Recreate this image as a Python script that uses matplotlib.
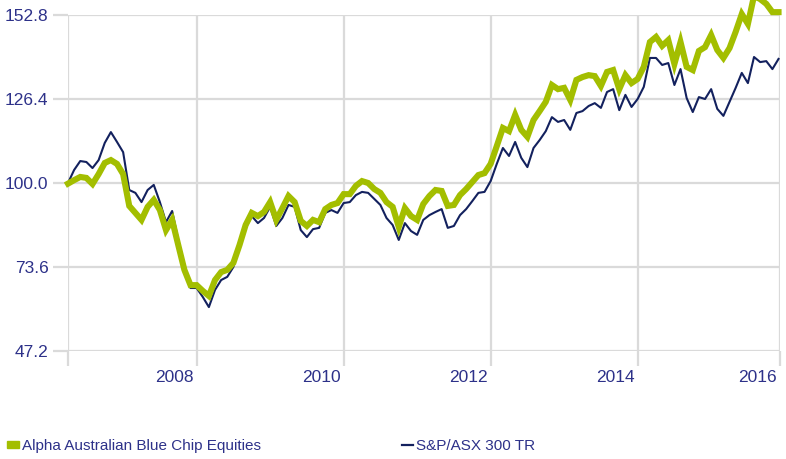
import matplotlib
matplotlib.use("Agg")
import matplotlib.pyplot as plt
import matplotlib.transforms as mtrans
from matplotlib.lines import Line2D
from matplotlib.patches import Patch
import numpy as np

plt.rcParams['font.family'] = ['Liberation Sans', 'DejaVu Sans']

# monthly values, Apr 2006 .. Dec 2015 (rebased to 100)
start_year = 2006.25
fund = [99.8, 100.9, 101.9, 101.6, 99.7, 102.8, 106.3, 107.2, 106.0, 102.8,
        92.8, 90.6, 88.4, 92.5, 94.7, 91.5, 85.2, 88.4, 80.5, 72.7,
        67.9, 67.9, 66.1, 64.5, 69.5, 72.0, 72.7, 74.9, 80.5, 86.8,
        90.6, 89.6, 90.9, 94.0, 88.4, 92.1, 95.9, 94.0, 88.1, 86.5,
        88.4, 87.7, 91.8, 93.1, 93.7, 96.5, 96.5, 99.1, 100.6, 100.0,
        98.1, 96.9, 94.0, 92.5, 86.2, 92.1, 89.6, 88.4, 93.4, 95.9,
        97.8, 97.5, 92.8, 93.1, 96.2, 98.1, 100.3, 102.5, 103.1, 106.0,
        111.6, 117.3, 116.3, 121.4, 116.7, 114.5, 119.8, 122.6, 125.5, 130.8,
        129.5, 129.9, 126.1, 132.4, 133.3, 133.9, 133.6, 130.5, 134.9, 135.5,
        129.5, 133.9, 131.4, 132.7, 136.5, 144.3, 145.9, 143.1, 144.9, 137.4,
        144.3, 136.5, 135.5, 141.5, 142.7, 146.5, 141.8, 139.3, 142.4, 147.5,
        153.1, 150.0, 158.8, 157.8, 156.3, 153.7, 153.7]
index = [100.0, 104.1, 106.9, 106.6, 104.7, 107.2, 112.6, 116.0, 112.9, 109.7,
         97.8, 96.9, 94.0, 97.8, 99.4, 94.0, 87.7, 91.2, 82.1, 74.2,
         67.0, 67.0, 64.2, 61.0, 66.4, 69.5, 70.5, 73.6, 80.2, 85.9,
         89.6, 87.4, 89.0, 92.5, 86.5, 89.0, 93.1, 92.5, 85.2, 83.0,
         85.5, 85.9, 90.6, 91.5, 90.6, 93.7, 94.0, 96.2, 97.2, 96.9,
         95.0, 93.1, 89.0, 86.8, 82.1, 87.4, 84.9, 83.7, 88.4, 89.9,
         90.9, 91.8, 85.9, 86.5, 89.9, 91.8, 94.3, 96.9, 97.2, 100.6,
         106.0, 111.0, 108.5, 112.9, 107.9, 105.0, 111.0, 113.5, 116.3, 120.7,
         119.2, 119.8, 116.7, 122.0, 122.6, 124.2, 125.1, 123.6, 128.6, 129.5,
         122.9, 127.7, 123.9, 126.4, 130.2, 139.3, 139.3, 137.1, 137.7, 130.8,
         135.8, 126.7, 122.3, 127.0, 126.4, 129.5, 123.3, 121.1, 125.5, 129.9,
         134.6, 131.4, 139.6, 138.0, 138.3, 135.8, 139.0]
y_ticks = [47.2, 73.6, 100.0, 126.4, 152.8]
x_ticks = [2008, 2010, 2012, 2014, 2016]
names = ['Alpha Australian Blue Chip Equities', 'S&P/ASX 300 TR']

green = '#a3be00'
navy = '#13215e'
txt = '#2d3189'
grid = '#dadada'

months = start_year + np.arange(len(fund)) / 12.0
x_end = start_year + 116.24 / 12.0

fig = plt.figure(figsize=(7.86, 4.59), dpi=100)
ax = fig.add_axes([68/786, 1 - 351/459, 712/786, 336/459])

ax.plot(months, index, color=navy, lw=1.5, clip_on=False, zorder=3)
ax.plot(months, fund, color=green, lw=4.4, clip_on=False, zorder=4,
        solid_joinstyle='miter')

ax.set_xlim(start_year, x_end)
ax.set_ylim(47.2, 152.8)

tick_pos = [start_year] + x_ticks[:-1] + [x_end]
ax.set_xticks(tick_pos, [''] + [str(t) for t in x_ticks])
ax.set_yticks(y_ticks, ['%.1f' % v for v in y_ticks])
ax.grid(True, color=grid, lw=1.6)
ax.set_axisbelow(True)
for s in ax.spines.values():
    s.set_visible(False)
ax.tick_params(axis='both', color=grid, width=1.6, length=10.5,
               labelcolor=txt, labelsize=12.5)
ax.tick_params(axis='x', pad=3)
ax.tick_params(axis='y', pad=3.5)

shift = mtrans.ScaledTranslation(-3/100, 0, fig.dpi_scale_trans)
for lab in ax.get_xticklabels():
    lab.set_horizontalalignment('right')
    lab.set_transform(lab.get_transform() + shift)

h1 = Patch(color=green)
leg1 = fig.legend([h1], [names[0]], loc='center left',
                  bbox_to_anchor=(7/786, 1 - 446/459), frameon=False,
                  borderpad=0, borderaxespad=0, handlelength=0.8,
                  handleheight=0.35, handletextpad=0.15, fontsize=11,
                  labelcolor=txt)
h2 = Line2D([], [], color=navy, lw=1.6)
leg2 = fig.legend([h2], [names[1]], loc='center left',
                  bbox_to_anchor=(402/786, 1 - 446/459), frameon=False,
                  borderpad=0, borderaxespad=0, handlelength=0.7,
                  handletextpad=0.2, fontsize=11, labelcolor=txt)

fig.savefig('out.png', dpi=100)
